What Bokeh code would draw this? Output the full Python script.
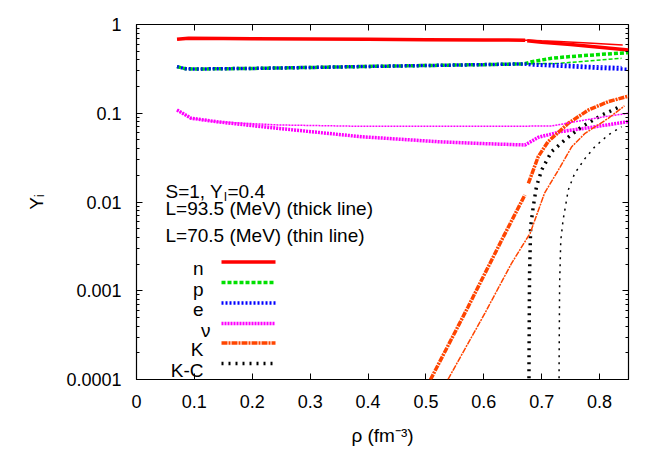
import math
from bokeh.plotting import figure
from bokeh.models import Label, FixedTicker, CustomJSTickFormatter, LinearAxis, LogAxis, Range1d
from bokeh.embed import file_html
from bokeh.resources import INLINE

nan = float("nan")

# ---------------- data ----------------
XMIN, XMAX = 0.0, 0.85
YMIN, YMAX = 1e-4, 1.0
x_ticks = [0.0, 0.1, 0.2, 0.3, 0.4, 0.5, 0.6, 0.7, 0.8]
y_ticks = [1e-4, 1e-3, 1e-2, 1e-1, 1.0]

# L = 93.5 MeV (thick lines)
rho_n_thick = [0.07, 0.09, 0.15, 0.2, 0.3, 0.4, 0.5, 0.6, 0.6715, nan, 0.675, 0.70, 0.75, 0.80, 0.85]
Y_n_thick = [0.68, 0.70, 0.695, 0.69, 0.685, 0.68, 0.675, 0.67, 0.665, nan, 0.655, 0.63, 0.595, 0.555, 0.516]
rho_p_thick = [0.07, 0.085, 0.1, 0.2, 0.3, 0.4, 0.5, 0.6, 0.67, 0.683, 0.717, 0.746, 0.804, 0.85]
Y_p_thick = [0.335, 0.317, 0.315, 0.320, 0.328, 0.337, 0.345, 0.353, 0.360, 0.381, 0.416, 0.434, 0.461, 0.482]
rho_e_thick = [0.07, 0.085, 0.1, 0.2, 0.3, 0.4, 0.5, 0.6, 0.67, 0.683, 0.75, 0.80, 0.85]
Y_e_thick = [0.335, 0.317, 0.315, 0.320, 0.328, 0.337, 0.345, 0.353, 0.360, 0.350, 0.335, 0.320, 0.313]
rho_nu_thick = [0.07, 0.094, 0.14, 0.244, 0.388, 0.521, 0.60, 0.671, 0.694, 0.734, 0.777, 0.85]
Y_nu_thick = [0.109, 0.088, 0.080, 0.0676, 0.0544, 0.0478, 0.0455, 0.0439, 0.0535, 0.0623, 0.068, 0.0805]
rho_K_thick = [0.50, 0.508, 0.573, 0.631, 0.671, nan, 0.677, 0.694, 0.711, 0.746, 0.781, 0.815, 0.85]
Y_K_thick = [7.9e-5, 1e-4, 6.6e-4, 0.00373, 0.012, nan, 0.0162, 0.0324, 0.0478, 0.077, 0.109, 0.135, 0.156]
rho_KC_thick = [0.678, 0.6781, 0.679, 0.681, 0.6855, 0.691, 0.700, 0.717, 0.740, 0.769, 0.804, 0.838]
Y_KC_thick = [5e-5, 1.5e-4, 0.0015, 0.0053, 0.0089, 0.0149, 0.023, 0.0369, 0.050, 0.0705, 0.0955, 0.121]

# L = 70.5 MeV (thin lines)
rho_n_thin = [0.07, 0.09, 0.15, 0.2, 0.3, 0.4, 0.5, 0.6, 0.675, 0.70, 0.73, 0.78, 0.84]
Y_n_thin = [0.68, 0.70, 0.695, 0.69, 0.685, 0.68, 0.675, 0.67, 0.665, 0.655, 0.645, 0.62, 0.588]
rho_p_thin = [0.07, 0.085, 0.1, 0.2, 0.3, 0.4, 0.5, 0.6, 0.67, 0.729, 0.78, 0.838]
Y_p_thin = [0.335, 0.317, 0.315, 0.320, 0.328, 0.337, 0.345, 0.353, 0.360, 0.365, 0.388, 0.416]
rho_e_thin = [0.07, 0.085, 0.1, 0.2, 0.3, 0.4, 0.5, 0.6, 0.67, 0.729, 0.78, 0.838]
Y_e_thin = [0.335, 0.317, 0.315, 0.320, 0.328, 0.337, 0.345, 0.353, 0.360, 0.362, 0.345, 0.335]
rho_nu_thin = [0.07, 0.094, 0.14, 0.244, 0.388, 0.5, 0.6, 0.717, 0.752, 0.78, 0.809, 0.85]
Y_nu_thin = [0.109, 0.088, 0.080, 0.0739, 0.0712, 0.0712, 0.0712, 0.0718, 0.079, 0.085, 0.0914, 0.100]
rho_K_thin = [0.53, 0.538, 0.602, 0.648, 0.680, 0.705, 0.729, 0.752, 0.775, 0.815, 0.843]
Y_K_thin = [8e-5, 1e-4, 5.6e-4, 0.00204, 0.00444, 0.0126, 0.023, 0.042, 0.0594, 0.0877, 0.121]
rho_KC_thin = [0.730, 0.7301, 0.731, 0.733, 0.737, 0.746, 0.757, 0.775, 0.792, 0.815, 0.838]
Y_KC_thin = [5e-5, 1.5e-4, 0.0012, 0.0037, 0.00627, 0.0137, 0.021, 0.031, 0.042, 0.0569, 0.0705]

species = ["n", "p", "e", "\u03bd", "K", "K-C"]
colors = ["#ff0000", "#00e000", "#0000ff", "#ff00ff", "#ff4500", "#000000"]
dashes = ["solid", "4 2", "2 2", "2 1", "6 1 2 1", "2 5"]

thick_data = [(rho_n_thick, Y_n_thick), (rho_p_thick, Y_p_thick), (rho_e_thick, Y_e_thick),
              (rho_nu_thick, Y_nu_thick), (rho_K_thick, Y_K_thick), (rho_KC_thick, Y_KC_thick)]
thin_data = [(rho_n_thin, Y_n_thin), (rho_p_thin, Y_p_thin), (rho_e_thin, Y_e_thin),
             (rho_nu_thin, Y_nu_thin), (rho_K_thin, Y_K_thin), (rho_KC_thin, Y_KC_thin)]

# ---------------- layout ----------------
FW, FH = 492, 355
BL, BT, BR, BB = 136, 24, 20, 72
FL, FT = BL, BT  # frame top-left in page pixels
FONT = "Liberation Sans"
TICK_FS = "18px"
TXT_FS = "19px"

def dx(px):
    return XMIN + (px - FL) / FW * (XMAX - XMIN)

def dy(py):
    lo, hi = math.log10(YMIN), math.log10(YMAX)
    return 10 ** (lo + (FT + FH - py) / FH * (hi - lo))

p = figure(frame_width=FW, frame_height=FH, min_border_left=BL, min_border_top=BT,
           min_border_right=BR, min_border_bottom=BB, y_axis_type="log",
           x_range=Range1d(XMIN, XMAX), y_range=Range1d(YMIN, YMAX),
           output_backend="svg", toolbar_location=None,
           background_fill_color="white", border_fill_color="white")
p.xgrid.visible = False
p.ygrid.visible = False
p.outline_line_color = "black"
p.outline_line_width = 1.2
p.outline_line_alpha = 1.0

xticker = FixedTicker(ticks=x_ticks, minor_ticks=[])
yminor = [k * 10 ** e for e in range(-4, 0) for k in range(2, 10)]
yticker = FixedTicker(ticks=y_ticks, minor_ticks=yminor)

xfmt = CustomJSTickFormatter(code="return Math.abs(tick) < 1e-9 ? '0' : tick.toFixed(1);")
yfmt = CustomJSTickFormatter(code="""
const e = Math.round(Math.log10(tick));
return e >= 0 ? tick.toFixed(0) : tick.toFixed(-e);
""")
blankfmt = CustomJSTickFormatter(code="return '';")

def style_axis(ax, labels=True, minor=False):
    ax.axis_line_color = None
    ax.major_tick_in = 6
    ax.major_tick_out = 0
    ax.major_tick_line_color = "black"
    ax.major_tick_line_width = 1
    if minor:
        ax.minor_tick_in = 3
        ax.minor_tick_out = 0
        ax.minor_tick_line_color = "black"
    else:
        ax.minor_tick_line_color = None
    ax.major_label_text_font = FONT
    ax.major_label_text_font_size = TICK_FS
    ax.major_label_text_color = "black"
    if not labels:
        ax.formatter = blankfmt
        ax.major_label_standoff = 0

xa = p.xaxis[0]
xa.ticker = xticker
xa.formatter = xfmt
style_axis(xa)
xa.major_label_standoff = 15
xa.axis_label = "\u03c1 (fm\u207b\u00b3)"
xa.axis_label_text_font = FONT
xa.axis_label_text_font_size = TXT_FS
xa.axis_label_text_font_style = "normal"
xa.axis_label_text_color = "black"
xa.axis_label_standoff = 14

ya = p.yaxis[0]
ya.ticker = yticker
ya.formatter = yfmt
style_axis(ya, minor=True)
ya.major_label_standoff = 15
ya.axis_label = "Y\u1d62"
ya.axis_label_text_font = FONT
ya.axis_label_text_font_size = TXT_FS
ya.axis_label_text_font_style = "normal"
ya.axis_label_text_color = "black"
ya.axis_label_standoff = 16

top = LinearAxis(ticker=xticker)
style_axis(top, labels=False)
p.add_layout(top, "above")
right = LogAxis(ticker=yticker)
style_axis(right, labels=False, minor=True)
p.add_layout(right, "right")

# ---------------- curves ----------------
for (xs, ys), c, d in zip(thick_data, colors, dashes):
    p.line(xs, ys, line_color=c, line_width=3.5, line_dash=d)
for (xs, ys), c, d in zip(thin_data, colors, dashes):
    p.line(xs, ys, line_color=c, line_width=1.5, line_dash=d)

# ---------------- annotations ----------------
def add_text(txt, px, py, size=TXT_FS, align="left"):
    p.add_layout(Label(x=dx(px), y=dy(py), text=txt, text_font=FONT, text_font_size=size,
                       text_color="black", text_align=align, text_baseline="alphabetic"))

add_text("S=1, Y", 165, 191)
add_text("l", 223.5, 196, size="13px")
add_text("=0.4", 227, 191)
add_text("L=93.5 (MeV) (thick line)", 165, 208)
add_text("L=70.5 (MeV) (thin line)", 165, 235)

# ---------------- legend (label left of sample, gnuplot style) ----------------
leg_base = [268, 288.5, 309, 329.5, 349, 369.5]
leg_right = [203, 203, 203, 210, 203, 203]
for lab, c, d, yb, xr in zip(species, colors, dashes, leg_base, leg_right):
    add_text(lab, xr, yb, align="right")
    ys = dy(yb - 6.5)
    p.line([dx(221), dx(275)], [ys, ys], line_color=c, line_width=3.5, line_dash=d)

open("out.html", "w").write(file_html(p, INLINE))
